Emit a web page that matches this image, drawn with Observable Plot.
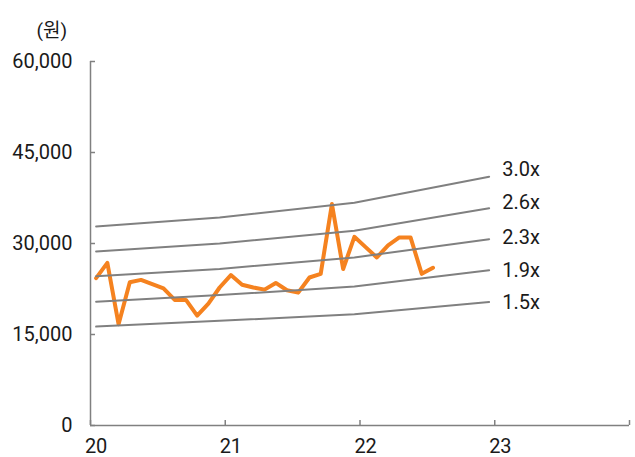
<!DOCTYPE html>
<html><head><meta charset="utf-8">
<script src="https://cdn.jsdelivr.net/npm/d3@7"></script>
<script src="https://cdn.jsdelivr.net/npm/@observablehq/plot@0.6"></script>
<style>html,body{margin:0;padding:0;background:#fff}</style>
</head><body><div id="chart"></div>
<script>
// ---- data ----
const priceStart = "2020-01"; // monthly closing price from Jan 2020
const priceValues = [24300, 26800, 16700, 23600, 24000, 23300, 22600, 20700, 20700, 18100,
  20100, 22750, 24800, 23200, 22750, 22400, 23500, 22300, 21900, 24400,
  25000, 36500, 25800, 31100, 29400, 27700, 29700, 31000, 31000, 25000, 26000];
const bandMonths = ["2020-01", "2020-12", "2021-12", "2022-12"];
const bandNames = ["3.0x", "2.6x", "2.3x", "1.9x", "1.5x"];
const band30 = [32800, 34300, 36700, 41000];
const band26 = [28700, 30000, 32100, 35800];
const band23 = [24600, 25800, 27700, 30700];
const band19 = [20400, 21500, 22900, 25600];
const band15 = [16300, 17250, 18350, 20350];
const yTicks = [0, 15000, 30000, 45000, 60000];
const yearLabels = ["20", "21", "22", "23"];
const yearStarts = ["2020-01", "2021-01", "2022-01", "2023-01"];
const axisEnd = "2024-01";
const unitLabel = "(원)";

// ---- helpers ----
const monthIndex = s => { const [y, m] = s.split("-").map(Number); return (y - 2020) * 12 + (m - 1); };
const startIdx = monthIndex(priceStart);
const price = priceValues.map((v, i) => ({x: startIdx + i + 0.5, y: v}));
const bandSeries = [band30, band26, band23, band19, band15];
const bandRows = [];
bandSeries.forEach((arr, b) => arr.forEach((v, i) => bandRows.push({band: bandNames[b], x: monthIndex(bandMonths[i]) + 0.5, y: v})));
const bandEnds = bandNames.map(n => bandRows.filter(r => r.band === n).slice(-1)[0]);
const labelDy = [-7, -6, -2, 0, 1];
const tickPos = [...yearStarts, axisEnd].map(monthIndex);
const labelPos = yearStarts.map(s => monthIndex(s) + 0.5);

const W = 635, H = 457, mL = 90, mR = 6, mT = 61, mB = 32;
const gray = "#808080", orange = "#F5821F";

const chart = Plot.plot({
  width: W, height: H,
  marginLeft: mL, marginRight: mR, marginTop: mT, marginBottom: mB,
  x: {domain: [0, 48]},
  y: {domain: [0, 60000]},
  style: {fontFamily: 'Roboto, "Noto Sans CJK KR", sans-serif', fontSize: "20px", color: "#1a1a1a", background: "#fff"},
  marks: [
    Plot.axisY(yTicks, {tickSize: 0, tickPadding: 18, tickFormat: d3.format(","), label: null, fontSize: 20}),
    Plot.axisX(labelPos, {tickSize: 0, tickPadding: 13.5, tickFormat: d => yearLabels[labelPos.indexOf(d)], label: null, fontSize: 20}),
    Plot.line(price, {x: "x", y: "y", stroke: orange, strokeWidth: 4, strokeLinejoin: "round", curve: "linear"}),
    Plot.line(bandRows, {x: "x", y: "y", z: "band", stroke: gray, strokeWidth: 2}),
    ...bandEnds.map((d, i) => Plot.text([d], {x: "x", y: "y", text: "band", dx: 13, dy: labelDy[i], textAnchor: "start", fontSize: 20, fill: "#1a1a1a"})),
    Plot.ruleX([0], {stroke: gray, strokeWidth: 1.5}),
    Plot.ruleY([0], {stroke: gray, strokeWidth: 1.5}),
    Plot.tickY(yTicks, {y: d => d, insetRight: W - mL - mR - 5, stroke: gray, strokeWidth: 1.5}),
    Plot.tickX(tickPos, {x: d => d, insetTop: H - mT - mB - 5, stroke: gray, strokeWidth: 1.5}),
    Plot.text([unitLabel], {text: d => d, frameAnchor: "top-left", dx: -54, dy: -38, textAnchor: "start", fontSize: 19, fill: "#1a1a1a"})
  ]
});
document.getElementById("chart").appendChild(chart);
</script>
</body></html>
